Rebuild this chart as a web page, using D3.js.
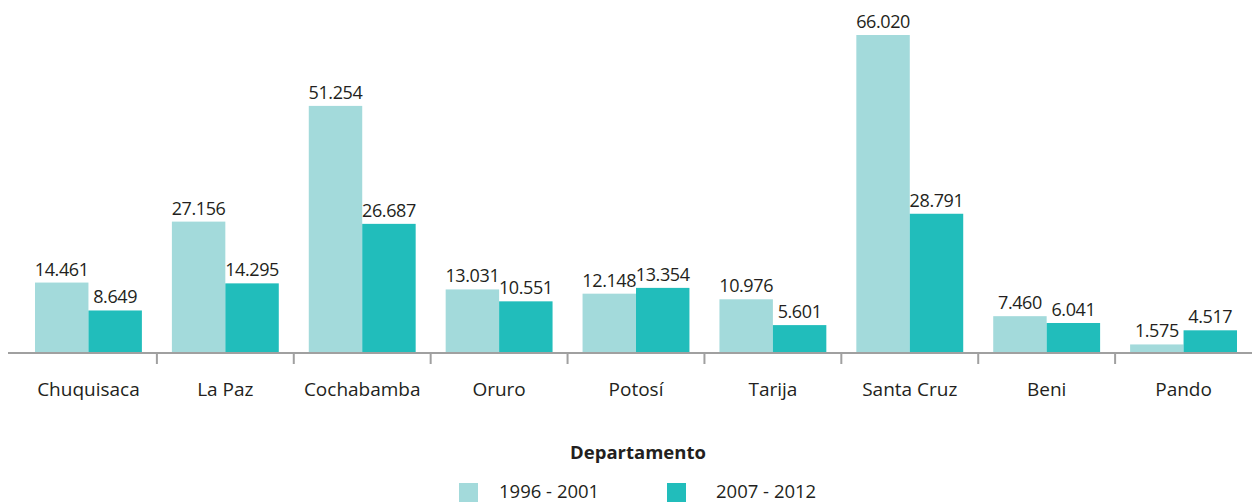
<!DOCTYPE html>
<html>
<head>
<meta charset="utf-8">
<script src="https://cdn.jsdelivr.net/npm/d3@7"></script>
<style>
  body { margin: 0; background: #fff; }
  text { font-family: "Open Sans", "Noto Sans", sans-serif; fill: #231f20; }
</style>
</head>
<body>
<div id="chart"></div>
<script>
// data
const departamentos = ["Chuquisaca", "La Paz", "Cochabamba", "Oruro", "Potosí", "Tarija", "Santa Cruz", "Beni", "Pando"];
const series = ["1996 - 2001", "2007 - 2012"];
const valores1996 = [14461, 27156, 51254, 13031, 12148, 10976, 66020, 7460, 1575];
const valores2007 = [8649, 14295, 26687, 10551, 13354, 5601, 28791, 6041, 4517];
const colores = ["#a3dadb", "#21bdbb"];

const width = 1259, height = 504;
const baseY = 352, topY = 35;

function label(v) {
  // thousands with a dot, e.g. 14.461
  return Math.floor(v / 1000) + "." + String(v % 1000).padStart(3, "0");
}

const svg = d3.select("#chart").append("svg")
  .attr("width", width)
  .attr("height", height);

const x = d3.scaleBand()
  .domain(departamentos)
  .range([20, 1252]);

const xs = d3.scaleBand()
  .domain(series)
  .range([15, x.bandwidth() - 15]);

const y = d3.scaleLinear()
  .domain([0, 66020])
  .range([baseY, topY]);

const data = departamentos.map((d, i) => ({ dep: d, vals: [valores1996[i], valores2007[i]] }));

const groups = svg.append("g").selectAll("g")
  .data(data)
  .enter()
  .append("g")
  .attr("transform", d => "translate(" + x(d.dep) + ",0)");

groups.selectAll("rect")
  .data(d => d.vals.map((v, j) => ({ s: series[j], v: v, j: j })))
  .enter()
  .append("rect")
  .attr("x", d => xs(d.s))
  .attr("y", d => y(d.v))
  .attr("width", xs.bandwidth())
  .attr("height", d => baseY - y(d.v))
  .attr("fill", d => colores[d.j]);

groups.selectAll("text.val")
  .data(d => d.vals.map((v, j) => ({ s: series[j], v: v })))
  .enter()
  .append("text")
  .attr("class", "val")
  .attr("x", d => xs(d.s) + xs.bandwidth() / 2)
  .attr("y", d => y(d.v) - 7)
  .attr("text-anchor", "middle")
  .style("font-size", "18px")
  .style("letter-spacing", "-0.4px")
  .text(d => label(d.v));

// axis
const axis = svg.append("g")
  .attr("transform", "translate(0," + baseY + ")")
  .call(d3.axisBottom(x).tickSize(0).tickPadding(31));
axis.select(".domain").remove();
axis.selectAll("text").style("font-size", "19px").attr("fill", "#231f20");

svg.append("line")
  .attr("x1", 8).attr("x2", 1252)
  .attr("y1", baseY + 1).attr("y2", baseY + 1)
  .attr("stroke", "#a0a0a0").attr("stroke-width", 2);

svg.append("g").selectAll("line")
  .data(departamentos.slice(1))
  .enter()
  .append("line")
  .attr("x1", d => x(d)).attr("x2", d => x(d))
  .attr("y1", baseY + 1).attr("y2", baseY + 12)
  .attr("stroke", "#a0a0a0").attr("stroke-width", 2);

svg.append("text")
  .attr("x", 638).attr("y", 459)
  .attr("text-anchor", "middle")
  .style("font-size", "18.5px")
  .style("font-weight", "bold")
  .text("Departamento");

// legend
const legX = [459, 667];
const leg = svg.append("g").selectAll("g")
  .data(series)
  .enter()
  .append("g")
  .attr("transform", (d, i) => "translate(" + legX[i] + ",483)");
leg.append("rect")
  .attr("width", 19).attr("height", 19)
  .attr("fill", (d, i) => colores[i]);
leg.append("text")
  .attr("x", (d, i) => i === 0 ? 40 : 49)
  .attr("y", 15)
  .style("font-size", "18.5px")
  .text(d => d);
</script>
</body>
</html>
